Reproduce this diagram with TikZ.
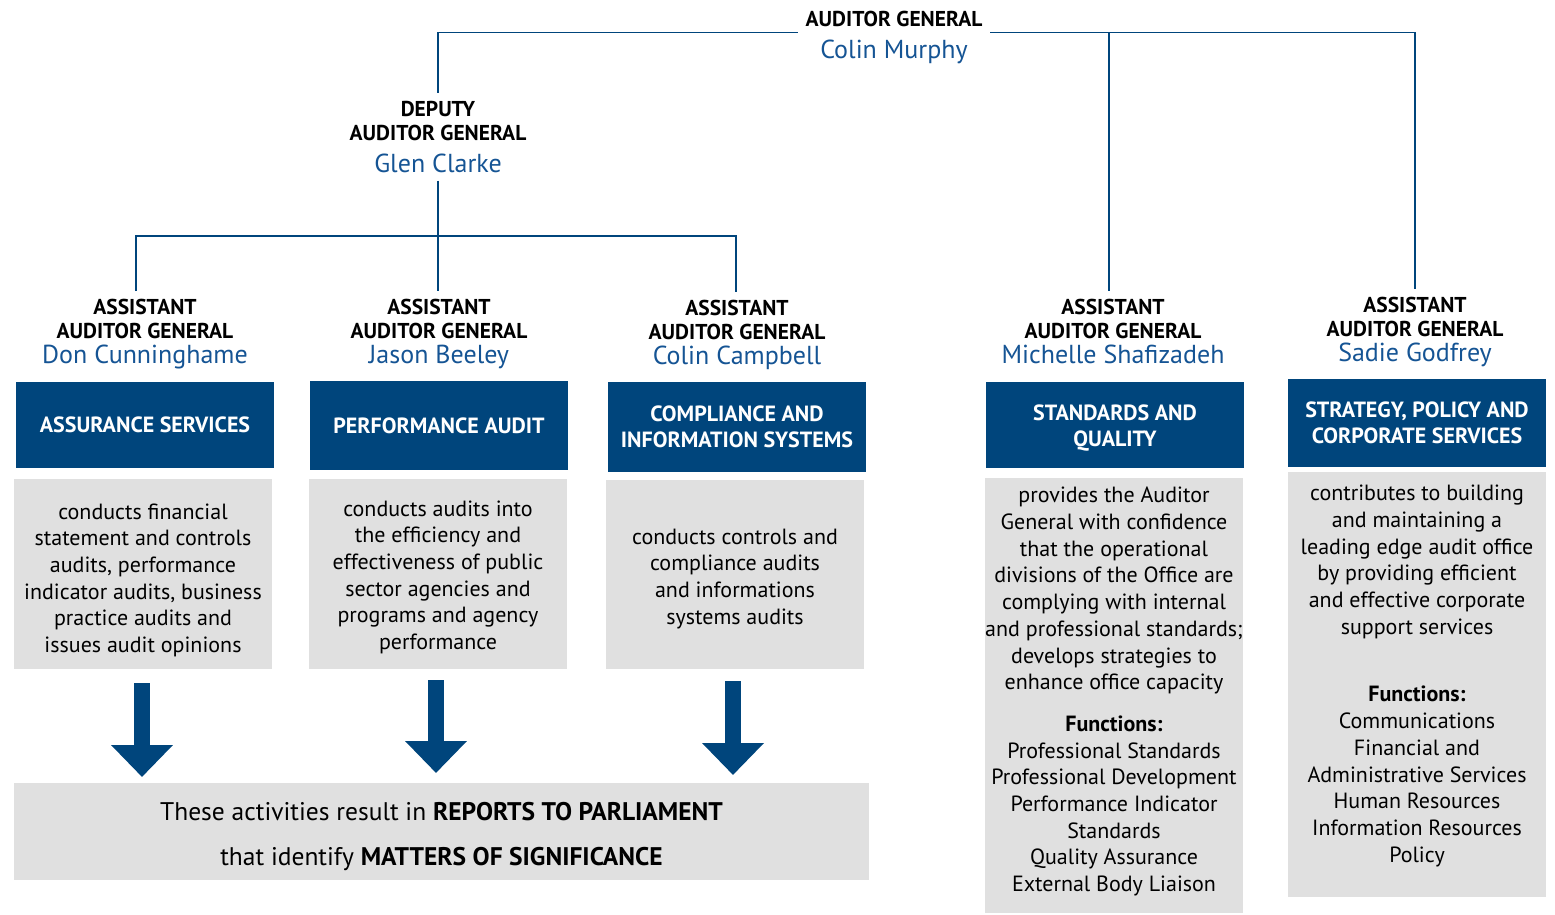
\documentclass[tikz,border=0pt]{standalone}
\usepackage{fontspec}
\setmainfont{PT Sans}
\usetikzlibrary{arrows.meta,calc}
\definecolor{oagblue}{RGB}{0,69,124}
\definecolor{nameblue}{RGB}{21,84,148}
\definecolor{panel}{RGB}{224,224,224}

\tikzset{
  unitbox/.style={fill=oagblue, text=white, align=center, inner sep=0pt,
    minimum width=258pt, font=\bfseries\fontsize{22}{26}\selectfont},
  descbox/.style={fill=panel, inner sep=0pt, minimum width=258pt},
  desctext/.style={align=center, inner sep=0pt, font=\fontsize{22}{26.7}\selectfont},
  title/.style={align=center, inner sep=0pt, outer ysep=8pt, outer xsep=6pt,
    font=\bfseries\fontsize{21.5}{24.5}\selectfont},
  conn/.style={draw=oagblue, line width=1.3pt},
  bigarrow/.style={draw=oagblue, line width=16pt, -{Triangle[width=60pt,length=32pt]}},
}
\newcommand\personname[1]{{\mdseries\fontsize{26}{30}\selectfont\color{nameblue}#1}}

\begin{document}
\begin{tikzpicture}[x=1pt, y=-1pt]
\useasboundingbox (0,0) rectangle (1555,915);

% --- executive level ---
\node[title, anchor=north, outer xsep=8pt] (ag) at (894,3) {AUDITOR GENERAL\\[8pt]\personname{Colin Murphy}};
\node[title, anchor=north] (dag) at (438,93) {DEPUTY\\AUDITOR GENERAL\\[7pt]\personname{Glen Clarke}};

% --- assistant auditors general ---
\node[title, anchor=north] (a1) at (145,291) {ASSISTANT\\AUDITOR GENERAL\\\personname{Don Cunninghame}};
\node[title, anchor=north] (a2) at (439,291) {ASSISTANT\\AUDITOR GENERAL\\\personname{Jason Beeley}};
\node[title, anchor=north] (a3) at (737,292) {ASSISTANT\\AUDITOR GENERAL\\\personname{Colin Campbell}};
\node[title, anchor=north] (a4) at (1113,291) {ASSISTANT\\AUDITOR GENERAL\\\personname{Michelle Shafizadeh}};
\node[title, anchor=north] (a5) at (1415,289) {ASSISTANT\\AUDITOR GENERAL\\\personname{Sadie Godfrey}};

% --- reporting lines ---
\coordinate (hub) at (438,236);
\coordinate (agl) at ([yshift=5pt]ag.west);
\coordinate (agr) at ([yshift=5pt]ag.east);
\coordinate (sq) at (1109,0);
\draw[conn] (agl) -| (dag.north);
\draw[conn] (agr) -| (a5.north);
\draw[conn] (sq |- agr) -- (sq |- a4.north);
\draw[conn] (dag.south) -- (dag.south |- a2.north);
\draw[conn] ([xshift=-9pt]a1.north) |- (hub) -| ([xshift=-1pt]a3.north);

% --- divisions ---
\node[unitbox, anchor=north, minimum height=86pt] (u1) at (145,382) {ASSURANCE SERVICES};
\node[unitbox, anchor=north, minimum height=89pt] (u2) at (439,381) {PERFORMANCE AUDIT};
\node[unitbox, anchor=north, minimum height=90pt] (u3) at (737,382) {COMPLIANCE AND\\INFORMATION SYSTEMS};
\node[unitbox, anchor=north, minimum height=86pt] (u4) at (1115,382) {};
\node[unitbox, anchor=center] (u4t) at ([yshift=-3pt]u4.center) {STANDARDS AND\\QUALITY};
\node[unitbox, anchor=north, minimum height=88pt] (u5) at (1417,379) {STRATEGY, POLICY AND\\CORPORATE SERVICES};

% --- division descriptions ---
\node[descbox, anchor=north, minimum height=190pt] (g1) at (143,479) {};
\node[descbox, anchor=north, minimum height=190pt] (g2) at (438,479) {};
\node[descbox, anchor=north, minimum height=189pt] (g3) at (735,480) {};
\node[descbox, anchor=north, minimum height=435pt] (g4) at (1114,478) {};
\node[descbox, anchor=north, minimum height=425pt] (g5) at (1417,472) {};
\node[desctext] (t1) at ([yshift=-6pt]g1.center)
  {conducts financial\\statement and controls\\audits, performance\\indicator audits, business\\practice audits and\\issues audit opinions};
\node[desctext] (t2) at ([yshift=-3pt]g2.center)
  {conducts audits into\\the efficiency and\\effectiveness of public\\sector agencies and\\programs and agency\\performance};
\node[desctext] (t3) at ([yshift=-4pt]g3.center)
  {conducts controls and\\compliance audits\\and informations\\systems audits};
\node[desctext, anchor=north] (t4) at (1114,487)
  {provides the Auditor\\General with confidence\\that the operational\\divisions of the Office are\\complying with internal\\and professional standards;\\develops strategies to\\enhance office capacity\\[15pt]
   \textbf{Functions:}\\Professional Standards\\Professional Development\\Performance Indicator\\Standards\\Quality Assurance\\External Body Liaison};
\node[desctext, anchor=north] (t5) at (1417,485)
  {contributes to building\\and maintaining a\\leading edge audit office\\by providing efficient\\and effective corporate\\support services\\[41pt]
   \textbf{Functions:}\\Communications\\Financial and\\Administrative Services\\Human Resources\\Information Resources\\Policy};

% --- outcome ---
\node[fill=panel, anchor=north, minimum width=855pt, minimum height=97pt, inner sep=0pt] (out) at (441.5,783) {};
\node[align=center, inner sep=0pt, font=\fontsize{25.5}{45}\selectfont] (outtext) at ([yshift=-5pt]out.center)
  {These activities result in \textbf{REPORTS TO PARLIAMENT}\\that identify \textbf{MATTERS OF SIGNIFICANCE}};

% --- arrows from each audit division to the outcome ---
\coordinate (s1) at ([xshift=-1pt,yshift=-14pt]g1.south);
\coordinate (s2) at ([xshift=-2pt,yshift=-11pt]g2.south);
\coordinate (s3) at ([xshift=-2pt,yshift=-12pt]g3.south);
\draw[bigarrow, shorten >=6pt] (s1) -- (s1 |- out.north);
\draw[bigarrow, shorten >=10pt] (s2) -- (s2 |- out.north);
\draw[bigarrow, shorten >=8pt] (s3) -- (s3 |- out.north);
\end{tikzpicture}
\end{document}
